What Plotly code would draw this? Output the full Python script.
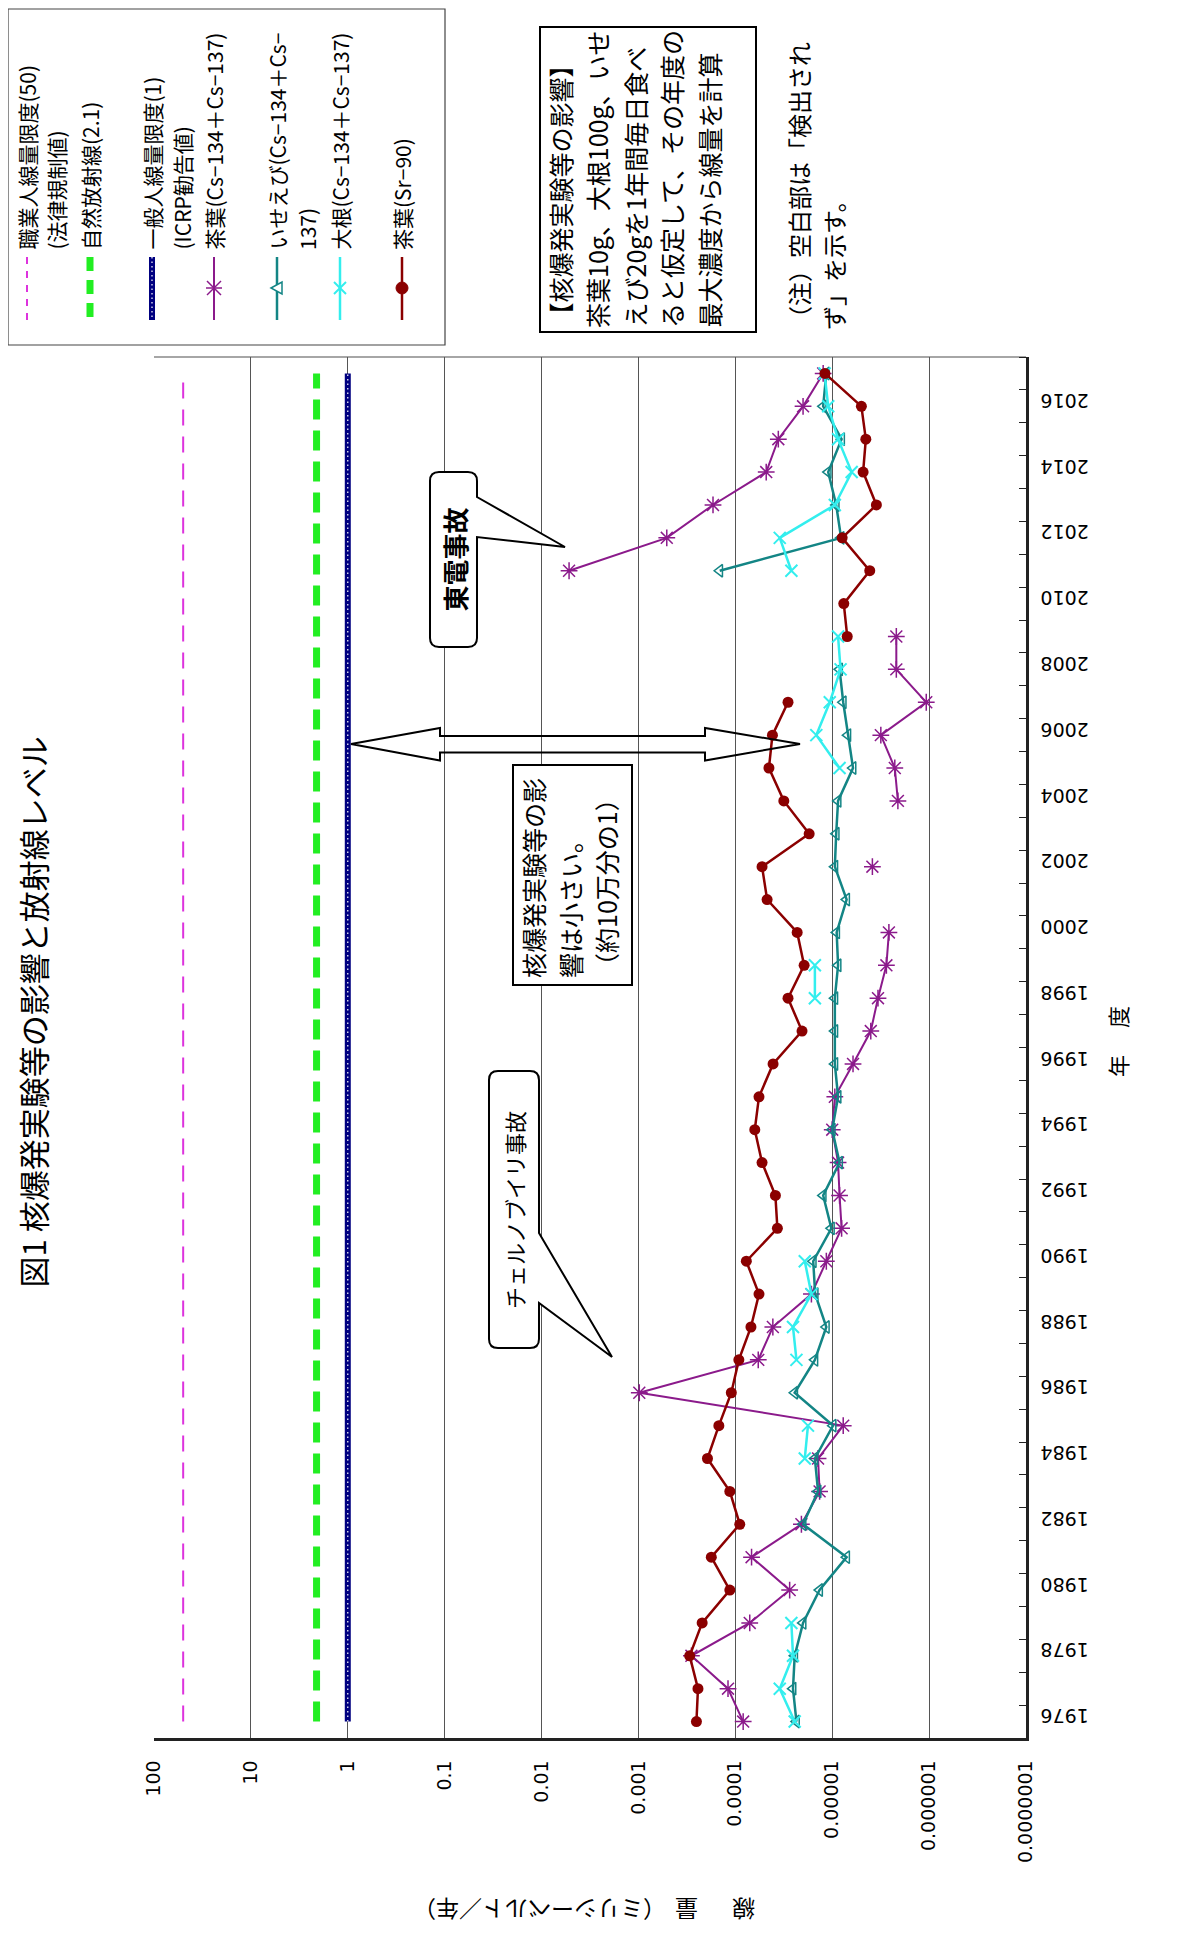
import plotly.graph_objects as go

# ---------------- data ----------------
YEARS = list(range(1976, 2018))

TEA_CS = [8.3e-5, 1.19e-4, 2.84e-4, 7.1e-5, 2.75e-5, 6.8e-5, 2.08e-5, 1.35e-5, 1.4e-5, 7.7e-6,
          9.8e-4, 5.8e-5, 4.1e-5, 1.64e-5, 1.15e-5, 8.0e-6, 8.4e-6, 8.7e-6, 1.0e-5, 9.4e-6,
          6.1e-6, 4.0e-6, 3.37e-6, 2.76e-6, 2.6e-6, None, 3.85e-6, None, 2.1e-6, 2.26e-6,
          3.15e-6, 1.07e-6, 2.18e-6, 2.18e-6, None, 5.2e-3, 5.1e-4, 1.7e-4, 4.8e-5, 3.6e-5,
          2.0e-5, 1.24e-5]

LOBSTER_CS = [2.34e-5, 2.54e-5, 2.44e-5, 2.0e-5, 1.35e-5, 7.1e-6, 2.0e-5, 1.4e-5, 1.51e-5, 9.8e-6,
              2.44e-5, 1.51e-5, 1.15e-5, 1.5e-5, 1.57e-5, 1.02e-5, 1.24e-5, 8.4e-6, 1.0e-5, 8.7e-6,
              9.4e-6, 9.4e-6, 9.4e-6, 8.7e-6, 9.0e-6, 7.1e-6, 9.4e-6, 9.1e-6, 8.7e-6, 6.1e-6,
              6.9e-6, 7.7e-6, 8.4e-6, None, None, 1.45e-4, 8.1e-6, 9.1e-6, 1.1e-5, 8.0e-6,
              1.24e-5, 1.15e-5]

RADISH_CS = [2.44e-5, 3.48e-5, 2.54e-5, 2.64e-5, None, None, None, None, 1.92e-5, 1.78e-5,
             None, 2.34e-5, 2.54e-5, 1.64e-5, 1.92e-5, None, None, None, None, None,
             None, None, 1.51e-5, 1.51e-5, None, None, None, None, None, 8.4e-6,
             1.46e-5, 1.06e-5, 8.2e-6, 8.7e-6, None, 2.64e-5, 3.48e-5, 9.4e-6, 6.3e-6, 8.7e-6,
             1.1e-5, 1.2e-5]

TEA_SR = [2.52e-4, 2.43e-4, 2.96e-4, 2.2e-4, 1.14e-4, 1.77e-4, 9.0e-5, 1.14e-4, 1.94e-4, 1.48e-4,
          1.1e-4, 9.2e-5, 6.9e-5, 5.7e-5, 7.7e-5, 3.68e-5, 3.86e-5, 5.3e-5, 6.3e-5, 5.7e-5,
          4.08e-5, 2.05e-5, 2.86e-5, 1.95e-5, 2.3e-5, 4.7e-5, 5.3e-5, 1.73e-5, 3.16e-5, 4.5e-5,
          4.14e-5, 2.86e-5, None, 7.0e-6, 7.6e-6, 4.1e-6, 7.9e-6, 3.5e-6, 4.8e-6, 4.5e-6,
          5.0e-6, 1.19e-5]

LIMIT_WORKER = 50
NATURAL = 2.1
LIMIT_PUBLIC = 1

DOSE_TICKS = [100, 10, 1, 0.1, 0.01, 0.001, 0.0001, 0.00001, 0.000001, 0.0000001]
DOSE_LABELS = ["100", "10", "1", "0.1", "0.01", "0.001", "0.0001", "0.00001", "0.000001", "0.0000001"]
YEAR_TICKS = list(range(1976, 2017, 2))
YEAR_LABELS = [str(y) for y in YEAR_TICKS]

NAMES = ["職業人線量限度(50)", "自然放射線(2.1)", "一般人線量限度(1)",
         "茶葉(Cs−134＋Cs−137)", "いせえび(Cs−134＋Cs−137)", "大根(Cs−134＋Cs−137)", "茶葉(Sr−90)"]

# ---------------- style ----------------
PINK = "#DD33DD"
GREEN = "#22EE22"
NAVY = "#000080"
PURPLE = "#8B1A8B"
TEAL = "#138585"
CYAN = "#33EEEE"
MAROON = "#8B0000"
CJK = "Noto Sans CJK JP"
NUM = "DejaVu Sans"

OFF = 8  # page body offset
W, H = 1192 - OFF, 1959 - OFF
L, R, T, B = 154, 1026, 357, 1738  # plot area in page pixels


def px(x):
    return (x - L) / (R - L)


def py(y):
    return (B - y) / (B - T)


fig = go.Figure()

y_span = [YEARS[0], YEARS[-1]]
fig.add_trace(go.Scatter(x=[LIMIT_WORKER, LIMIT_WORKER], y=y_span, mode="lines",
                         line=dict(color=PINK, width=2, dash="16px,11px"), name=NAMES[0]))
fig.add_trace(go.Scatter(x=[NATURAL, NATURAL], y=y_span, mode="lines",
                         line=dict(color=GREEN, width=7, dash="20px,11px"), name=NAMES[1]))
fig.add_trace(go.Scatter(x=[LIMIT_PUBLIC, LIMIT_PUBLIC], y=y_span, mode="lines",
                         line=dict(color=NAVY, width=6), name=NAMES[2]))
fig.add_trace(go.Scatter(x=[LIMIT_PUBLIC, LIMIT_PUBLIC], y=y_span, mode="lines",
                         line=dict(color="white", width=1.2, dash="1.5px,3px"), showlegend=False))

fig.add_trace(go.Scatter(x=TEA_CS, y=YEARS, mode="lines+markers", connectgaps=False, name=NAMES[3],
                         line=dict(color=PURPLE, width=2),
                         marker=dict(symbol="asterisk-open", size=14, line=dict(color=PURPLE, width=1.5))))
fig.add_trace(go.Scatter(x=LOBSTER_CS, y=YEARS, mode="lines+markers", connectgaps=False, name=NAMES[4],
                         line=dict(color=TEAL, width=2.5),
                         marker=dict(symbol="triangle-left-open", size=11, color=TEAL,
                                     line=dict(color=TEAL, width=1.5))))
fig.add_trace(go.Scatter(x=RADISH_CS, y=YEARS, mode="lines+markers", connectgaps=False, name=NAMES[5],
                         line=dict(color=CYAN, width=2.5),
                         marker=dict(symbol="x-thin-open", size=12, line=dict(color=CYAN, width=2))))
fig.add_trace(go.Scatter(x=TEA_SR, y=YEARS, mode="lines+markers", connectgaps=False, name=NAMES[6],
                         line=dict(color=MAROON, width=2.5),
                         marker=dict(symbol="circle", size=11, color=MAROON)))

shapes = []
annotations = []


def line(x0, y0, x1, y1, color="black", width=1, dash=None, layer="above"):
    d = dict(type="line", xref="paper", yref="paper", x0=px(x0), y0=py(y0), x1=px(x1), y1=py(y1),
             line=dict(color=color, width=width), layer=layer)
    if dash:
        d["line"]["dash"] = dash
    shapes.append(d)


def path(points, color="black", width=1, fill="rgba(0,0,0,0)", close=True, layer="above"):
    s = ""
    for i, p in enumerate(points):
        if p[0] == "Q":
            s += " Q %.5f,%.5f %.5f,%.5f" % (px(p[1]), py(p[2]), px(p[3]), py(p[4]))
        else:
            s += (" M " if i == 0 else " L ") + "%.5f,%.5f" % (px(p[0]), py(p[1]))
    if close:
        s += " Z"
    shapes.append(dict(type="path", xref="paper", yref="paper", path=s.strip(),
                       line=dict(color=color, width=width), fillcolor=fill, layer=layer))


def rect(x0, y0, x1, y1, color="black", width=1, fill="rgba(0,0,0,0)"):
    shapes.append(dict(type="rect", xref="paper", yref="paper", x0=px(x0), y0=py(y1), x1=px(x1), y1=py(y0),
                       line=dict(color=color, width=width), fillcolor=fill, layer="above"))


def text(x, y, s, size, angle=-90, xanchor="center", yanchor="bottom", bold=False, family=CJK, color="black"):
    annotations.append(dict(xref="paper", yref="paper", x=px(x), y=py(y), text=("<b>%s</b>" % s) if bold else s,
                            showarrow=False, textangle=angle, xanchor=xanchor, yanchor=yanchor,
                            font=dict(family=family, size=size, color=color)))


# top border of plot area
line(L, T, R, T, color="#888888", width=1.5, layer="below")

# page border on the right
line(1189, 0, 1189, 1959, color="#555555", width=2)

# ---------- legend (rotated) ----------
rect(8, 9, 445, 345, color="#444444", width=1.2, fill="white")
LEG_Y0, LEG_Y1, LEG_MY = 257, 320, 288
line(27, LEG_Y0, 27, LEG_Y1, color=PINK, width=2, dash="7px,7px")
line(90, LEG_Y0, 90, LEG_Y1, color=GREEN, width=7, dash="14px,9px")
line(152, LEG_Y0, 152, LEG_Y1, color=NAVY, width=6)
line(152, LEG_Y0, 152, LEG_Y1, color="white", width=1.2, dash="1.5px,3px")
line(214, LEG_Y0, 214, LEG_Y1, color=PURPLE, width=2)
line(207, LEG_MY - 7, 221, LEG_MY + 7, color=PURPLE, width=1.5)
line(207, LEG_MY + 7, 221, LEG_MY - 7, color=PURPLE, width=1.5)
line(206, LEG_MY, 222, LEG_MY, color=PURPLE, width=1.5)
line(277, LEG_Y0, 277, LEG_Y1, color=TEAL, width=2.5)
path([(271, LEG_MY), (282, LEG_MY - 6), (282, LEG_MY + 6)], color=TEAL, width=1.5, fill="white")
line(340, LEG_Y0, 340, LEG_Y1, color=CYAN, width=2.5)
line(334, LEG_MY - 6, 346, LEG_MY + 6, color=CYAN, width=2)
line(334, LEG_MY + 6, 346, LEG_MY - 6, color=CYAN, width=2)
line(402, LEG_Y0, 402, LEG_Y1, color=MAROON, width=2.5)
shapes.append(dict(type="circle", xref="paper", yref="paper", x0=px(396), x1=px(408),
                   y0=py(LEG_MY + 6), y1=py(LEG_MY - 6), fillcolor=MAROON, line=dict(color=MAROON, width=1),
                   layer="above"))

LEG_TXT_Y = 252
LEG_FS = 21
text(27, LEG_TXT_Y, NAMES[0], LEG_FS)
text(56, LEG_TXT_Y, "(法律規制値)", LEG_FS)
text(90, LEG_TXT_Y, NAMES[1], LEG_FS)
text(152, LEG_TXT_Y, NAMES[2], LEG_FS)
text(182, LEG_TXT_Y, "(ICRP勧告値)", LEG_FS)
text(214, LEG_TXT_Y, NAMES[3], LEG_FS)
text(277, LEG_TXT_Y, "いせえび(Cs−134＋Cs−", LEG_FS)
text(307, LEG_TXT_Y, "137)", LEG_FS)
text(340, LEG_TXT_Y, NAMES[5], LEG_FS)
text(402, LEG_TXT_Y, NAMES[6], LEG_FS)

# ---------- explanation box (top right) ----------
rect(540, 27, 756, 332, color="black", width=2, fill="white")
BOX_LINES = ["【核爆発実験等の影響】", "茶葉10g、大根100g、いせ", "えび20gを1年間毎日食べ",
             "ると仮定して、その年度の", "最大濃度から線量を計算"]
BOX_COLS = [559, 597, 634, 671, 708]
for cx, s in zip(BOX_COLS, BOX_LINES):
    text(cx, 330, s, 25)
text(798, 332, "（注）空白部は「検出され", 24)
text(833, 332, "ず」を示す。", 24)

# ---------- title & axis titles ----------
text(32, 1290, "図1 核爆発実験等の影響と放射線レベル", 31)
text(1117, 1042, "年　 度", 22, yanchor="middle")
text(744, 1910, "線", 23, angle=180, yanchor="middle")
text(687, 1910, "量", 23, angle=180, yanchor="middle")
text(540, 1910, "（ミリシーベルト／年）", 23, angle=180, yanchor="middle")

# ---------- callouts ----------
r = 9
bx0, bx1, by0, by1 = 430, 477, 472, 647
path([(bx0 + r, by0), (bx1 - r, by0), ("Q", bx1, by0, bx1, by0 + r), (bx1, 497), (565, 547), (bx1, 537),
      (bx1, by1 - r), ("Q", bx1, by1, bx1 - r, by1), (bx0 + r, by1), ("Q", bx0, by1, bx0, by1 - r),
      (bx0, by0 + r), ("Q", bx0, by0, bx0 + r, by0)], color="black", width=2, fill="white")
text(454, 559.5, "東電事故", 26, yanchor="middle", bold=True)

cx0, cx1, cy0, cy1 = 489, 539, 1071, 1348
path([(cx0 + r, cy0), (cx1 - r, cy0), ("Q", cx1, cy0, cx1, cy0 + r), (cx1, 1233), (612, 1357), (cx1, 1303),
      (cx1, cy1 - r), ("Q", cx1, cy1, cx1 - r, cy1), (cx0 + r, cy1), ("Q", cx0, cy1, cx0, cy1 - r),
      (cx0, cy0 + r), ("Q", cx0, cy0, cx0 + r, cy0)], color="black", width=2, fill="white")
text(514, 1210, "チェルノブイリ事故", 22, yanchor="middle")

# double-headed arrow
path([(351, 744), (440, 728), (440, 736), (705, 736), (705, 728), (800, 744), (705, 760.5),
      (705, 752.5), (440, 752.5), (440, 760.5)], color="black", width=2)

# text box
rect(513, 765, 632, 985, color="black", width=2, fill="white")
text(533, 980, "核爆発実験等の影", 25)
text(570, 980, "響は小さい。", 25)
text(606, 980, "（約10万分の1）", 25)

fig.update_layout(
    width=W, height=H, autosize=False,
    margin=dict(l=L - OFF, r=W - (R - OFF), t=T - OFF, b=H - (B - OFF), pad=0),
    paper_bgcolor="white", plot_bgcolor="white",
    showlegend=False,
    shapes=shapes, annotations=annotations,
    xaxis=dict(type="log", range=[2, -7], tickvals=DOSE_TICKS, ticktext=DOSE_LABELS,
               tickangle=-90, tickfont=dict(family=NUM, size=19, color="black"),
               showgrid=True, gridcolor="#555555", gridwidth=1.2, zeroline=False,
               showline=True, linecolor="#222222", linewidth=2.5, ticks="", ticklabelstandoff=12),
    yaxis=dict(range=[1975.5, 2017.5], side="right", tickvals=YEAR_TICKS, ticktext=YEAR_LABELS,
               tickangle=180, tickfont=dict(family=NUM, size=19, color="black"),
               showgrid=False, zeroline=False, showline=True, linecolor="#222222", linewidth=3,
               ticks="", ticklabelstandoff=56,
               minor=dict(tick0=1975.5, dtick=1, ticks="inside", ticklen=7, tickcolor="#222222",
                          tickwidth=1.2, showgrid=False)),
)

fig.write_html("out.html")
